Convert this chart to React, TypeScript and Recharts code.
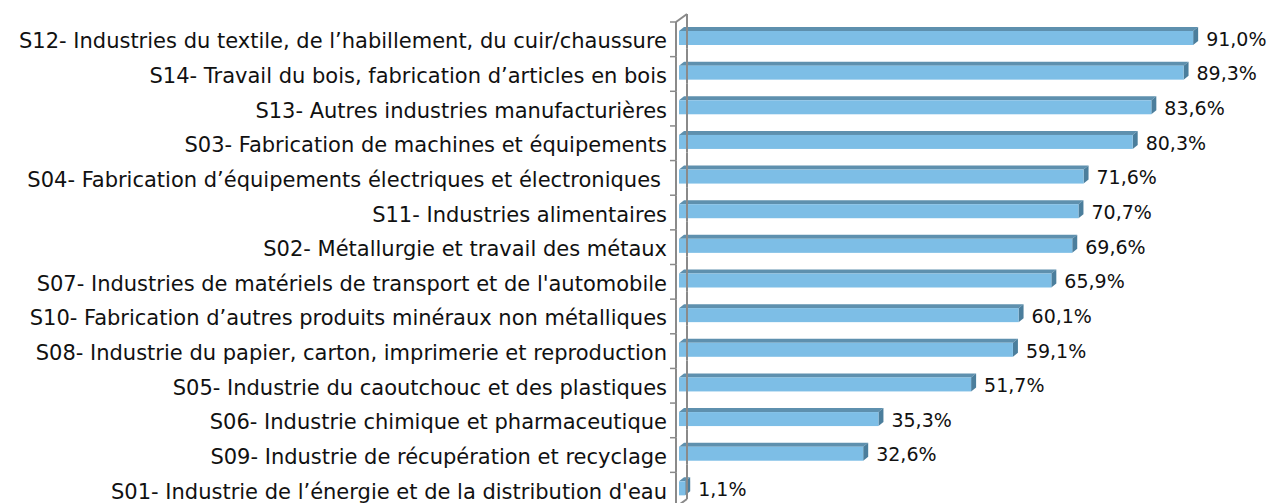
import React from "react";
import { BarChart, Bar, XAxis, YAxis, LabelList } from "recharts";

const categories = [
  "S12- Industries du textile, de l\u2019habillement, du cuir/chaussure",
  "S14- Travail du bois, fabrication d\u2019articles en bois",
  "S13- Autres industries manufacturi\u00e8res",
  "S03- Fabrication de machines et \u00e9quipements",
  "S04- Fabrication d\u2019\u00e9quipements \u00e9lectriques et \u00e9lectroniques",
  "S11- Industries alimentaires",
  "S02- M\u00e9tallurgie et travail des m\u00e9taux",
  "S07- Industries de mat\u00e9riels de transport et de l'automobile",
  "S10- Fabrication d\u2019autres produits min\u00e9raux non m\u00e9talliques",
  "S08- Industrie du papier, carton, imprimerie et reproduction",
  "S05- Industrie du caoutchouc et des plastiques",
  "S06- Industrie chimique et pharmaceutique",
  "S09- Industrie de r\u00e9cup\u00e9ration et recyclage",
  "S01- Industrie de l\u2019\u00e9nergie et de la distribution d'eau",
];
const values = [91.0, 89.3, 83.6, 80.3, 71.6, 70.7, 69.6, 65.9, 60.1, 59.1, 51.7, 35.3, 32.6, 1.1];

const data = categories.map((c, i) => ({ name: c, value: values[i] }));

const W = 1267;
const H = 510;
const MT = 22;
const MB = 3;
const BAND = (H - MT - MB) / categories.length;
const FONT = "'DejaVu Sans', sans-serif";
const GRAY = "#8a8a8a";

const Tick = (props: any) => {
  const { x, y, payload, index } = props;
  const top = y - BAND / 2;
  const bot = y + BAND / 2;
  const fx = x + 9;
  const bx = x + 20;
  const dy = 8;
  const last = index === categories.length - 1;
  const isS04 = index === 4;
  return (
    <g>
      <line x1={x + 3} y1={top} x2={fx} y2={top} stroke={GRAY} strokeWidth={1.5} />
      <line x1={fx} y1={top} x2={fx} y2={bot} stroke={GRAY} strokeWidth={2} />
      <line x1={bx} y1={top - dy} x2={bx} y2={bot - dy} stroke={GRAY} strokeWidth={2} />
      {index === 0 && (
        <line x1={fx} y1={top} x2={bx} y2={top - dy} stroke={GRAY} strokeWidth={2} />
      )}
      {last && (
        <line x1={bx} y1={bot - dy} x2={fx} y2={bot} stroke={GRAY} strokeWidth={2} />
      )}
      <text
        x={isS04 ? x - 6 : x}
        y={y + 2}
        textAnchor="end"
        dominantBaseline="central"
        fontFamily={FONT}
        fontSize={21}
        fill="#111"
      >
        {payload.value}
      </text>
    </g>
  );
};

const Bar3D = (props: any) => {
  const { x, y, width, height } = props;
  const dx = 5;
  const dy = 4;
  const yy = y - 1;
  const w = Math.max(width, 0);
  return (
    <g>
      <polygon
        points={`${x},${yy} ${x + dx},${yy - dy} ${x + w + dx},${yy - dy} ${x + w},${yy}`}
        fill="#5E90AE"
      />
      <polygon
        points={`${x + w},${yy} ${x + w + dx},${yy - dy} ${x + w + dx},${yy + height - dy} ${x + w},${yy + height}`}
        fill="#4B7E9C"
      />
      <rect x={x} y={yy} width={w} height={height} fill="#7DBEE6" />
    </g>
  );
};

const fmt = (v: any) => `${Number(v).toFixed(1).replace(".", ",")}%`;

export default function App() {
  return (
    <div style={{ position: "absolute", left: 0, top: 0, width: W, height: 503, overflow: "hidden", background: "#fff" }}>
      <BarChart
        width={W}
        height={H}
        data={data}
        layout="vertical"
        margin={{ top: MT, right: 23, bottom: MB, left: 0 }}
        barCategoryGap={0}
      >
        <XAxis type="number" domain={[0, 100]} hide />
        <YAxis
          type="category"
          dataKey="name"
          width={679}
          axisLine={false}
          tickLine={false}
          tickSize={0}
          tickMargin={12}
          interval={0}
          tick={<Tick />}
        />
        <Bar dataKey="value" barSize={14} shape={<Bar3D />} isAnimationActive={false}>
          <LabelList
            dataKey="value"
            position="right"
            offset={13}
            formatter={fmt}
            style={{ fontFamily: FONT, fontSize: 19, fill: "#111" }}
          />
        </Bar>
      </BarChart>
    </div>
  );
}
